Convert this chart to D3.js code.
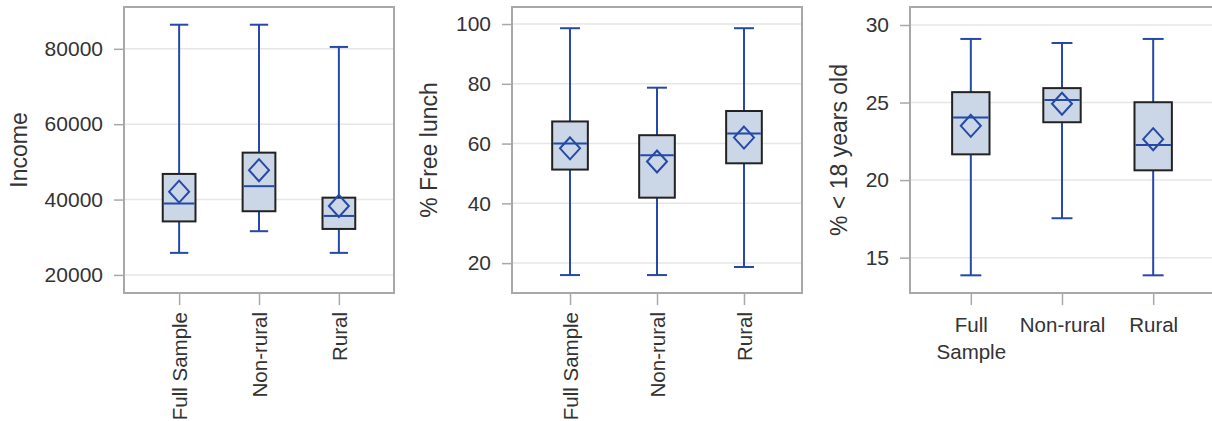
<!DOCTYPE html>
<html>
<head>
<meta charset="utf-8">
<script src="https://cdn.jsdelivr.net/npm/d3@7"></script>
<style>
  body { margin: 0; background: #fff; }
  text { font-family: "Liberation Sans", Arial, sans-serif; }
</style>
</head>
<body>
<svg id="chart"></svg>
<script>
var w = 1212;
var h = 421;

var groups = ["Full Sample", "Non-rural", "Rural"];

// income
var incomeMin = [25850, 31600, 25850];
var incomeQ1 = [34200, 36900, 32200];
var incomeMedian = [38950, 43550, 35650];
var incomeMean = [42100, 47800, 38300];
var incomeQ3 = [46800, 52450, 40500];
var incomeMax = [86400, 86400, 80500];
var incomeTicks = [20000, 40000, 60000, 80000];

// % free lunch
var lunchMin = [16, 16, 18.7];
var lunchQ1 = [51.3, 41.9, 53.4];
var lunchMedian = [60, 56.1, 63.4];
var lunchMean = [58.4, 54, 62];
var lunchQ3 = [67.4, 62.8, 70.9];
var lunchMax = [98.6, 78.7, 98.6];
var lunchTicks = [20, 40, 60, 80, 100];

// % < 18 years old
var youngMin = [13.86, 17.54, 13.86];
var youngQ1 = [21.66, 23.73, 20.63];
var youngMedian = [24.03, 25.17, 22.26];
var youngMean = [23.5, 24.92, 22.64];
var youngQ3 = [25.67, 25.93, 25.02];
var youngMax = [29.1, 28.84, 29.1];
var youngTicks = [15, 20, 25, 30];

var blue = "#2549a8";
var frameColor = "#a8a8a8";
var plotTop = 7, plotBottom = 293;

function stats(min, q1, med, mean, q3, max) {
  return groups.map(function(g, i) {
    return {group: g, min: min[i], q1: q1[i], median: med[i], mean: mean[i], q3: q3[i], max: max[i]};
  });
}

var panels = [
  {label: "Income", left: 124, width: 270, pad: 0.69, domain: [15200, 91100], ticks: incomeTicks, labelX: 27,
   rotate: true, data: stats(incomeMin, incomeQ1, incomeMedian, incomeMean, incomeQ3, incomeMax)},
  {label: "% Free lunch", left: 512, width: 290, pad: 0.667, domain: [10, 105.7], ticks: lunchTicks, labelX: 437,
   rotate: true, data: stats(lunchMin, lunchQ1, lunchMedian, lunchMean, lunchQ3, lunchMax)},
  {label: "% < 18 years old", left: 910, width: 304, pad: 0.667, domain: [12.72, 31.16], ticks: youngTicks, labelX: 847,
   rotate: false, data: stats(youngMin, youngQ1, youngMedian, youngMean, youngQ3, youngMax)}
];

var svg = d3.select("#chart")
  .attr("width", w)
  .attr("height", h)

panels.forEach(function(p) {
  var g = svg.append("g");

  var x = d3.scalePoint()
    .domain(groups)
    .range([p.left, p.left + p.width])
    .padding(p.pad);

  var y = d3.scaleLinear()
    .domain(p.domain)
    .range([plotBottom, plotTop]);

  var boxW = x.step() * 0.41;
  var capW = boxW * 0.56;

  // gridlines
  g.selectAll(".grid")
    .data(p.ticks)
    .enter()
    .append("line")
    .attr("x1", p.left)
    .attr("x2", p.left + p.width)
    .attr("y1", function(d) { return y(d); })
    .attr("y2", function(d) { return y(d); })
    .attr("stroke", "#e6e6e6")
    .attr("stroke-width", 1.5)

  // y axis
  var yAxis = g.append("g")
    .attr("transform", "translate(" + p.left + ",0)")
    .call(d3.axisLeft(y).tickValues(p.ticks).tickSize(10).tickPadding(11).tickFormat(d3.format("d")));
  yAxis.select(".domain").remove();
  yAxis.selectAll("line").attr("stroke", frameColor).attr("stroke-width", 1.5);
  yAxis.selectAll("text").style("font-size", "21px").attr("fill", "#333");

  // x axis
  var xAxis = g.append("g")
    .attr("transform", "translate(0," + plotBottom + ")")
    .call(d3.axisBottom(x).tickSize(12).tickPadding(12));
  xAxis.select(".domain").remove();
  xAxis.selectAll("line").attr("stroke", frameColor).attr("stroke-width", 1.5);
  var xt = xAxis.selectAll("text").style("font-size", "20.5px").attr("fill", "#333");
  if (p.rotate) {
    xt.attr("transform", "rotate(-90)")
      .attr("text-anchor", "end")
      .attr("x", -19)
      .attr("y", 0)
      .attr("dy", "0.35em");
  } else {
    xt.each(function(d) {
      var t = d3.select(this);
      var words = d.split(" ");
      if (words.length > 1) {
        t.text(null);
        words.forEach(function(word, i) {
          t.append("tspan").attr("x", 0).attr("dy", i === 0 ? "0.71em" : "27px").text(word);
        });
      }
    });
  }

  // frame
  g.append("rect")
    .attr("x", p.left)
    .attr("y", plotTop)
    .attr("width", p.width)
    .attr("height", plotBottom - plotTop)
    .attr("fill", "none")
    .attr("stroke", frameColor)
    .attr("stroke-width", 2)

  // y label
  g.append("text")
    .attr("transform", "translate(" + p.labelX + "," + ((plotTop + plotBottom) / 2) + ") rotate(-90)")
    .attr("text-anchor", "middle")
    .style("font-size", "23px")
    .attr("fill", "#333")
    .text(p.label)

  var box = g.selectAll(".box")
    .data(p.data)
    .enter()
    .append("g")
    .attr("class", "box")
    .attr("transform", function(d) { return "translate(" + x(d.group) + ",0)"; });

  box.append("line")
    .attr("y1", function(d) { return y(d.min); })
    .attr("y2", function(d) { return y(d.max); })
    .attr("stroke", blue)
    .attr("stroke-width", 2)

  box.selectAll(".cap")
    .data(function(d) { return [d.min, d.max]; })
    .enter()
    .append("line")
    .attr("x1", -capW / 2)
    .attr("x2", capW / 2)
    .attr("y1", function(v) { return y(v); })
    .attr("y2", function(v) { return y(v); })
    .attr("stroke", blue)
    .attr("stroke-width", 2)

  box.append("rect")
    .attr("x", -boxW / 2)
    .attr("width", boxW)
    .attr("y", function(d) { return y(d.q3); })
    .attr("height", function(d) { return y(d.q1) - y(d.q3); })
    .attr("fill", "#cbd6e6")
    .attr("stroke", "#222")
    .attr("stroke-width", 2)

  box.append("line")
    .attr("x1", -boxW / 2 + 1)
    .attr("x2", boxW / 2 - 1)
    .attr("y1", function(d) { return y(d.median); })
    .attr("y2", function(d) { return y(d.median); })
    .attr("stroke", blue)
    .attr("stroke-width", 2)

  box.append("path")
    .attr("d", function(d) {
      var cy = y(d.mean);
      return "M0," + (cy - 11) + "L10," + cy + "L0," + (cy + 11) + "L-10," + cy + "Z";
    })
    .attr("fill", "none")
    .attr("stroke", blue)
    .attr("stroke-width", 2)
});
</script>
</body>
</html>
